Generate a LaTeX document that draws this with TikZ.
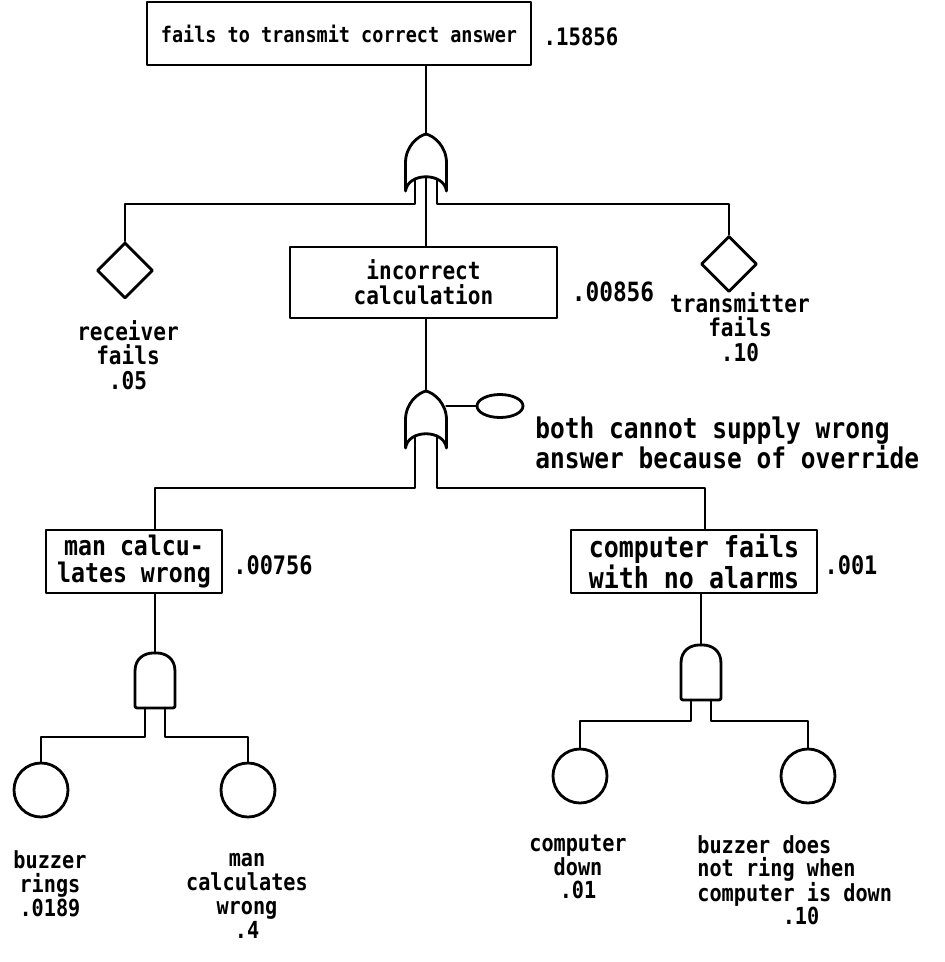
\documentclass[tikz,border=0pt]{standalone}
\usepackage{fontspec}
\setmonofont[FakeStretch=0.86]{DejaVu Sans Mono}
\usetikzlibrary{shapes.geometric}
\newcommand\fsz[2]{\fontsize{#1}{#2}\selectfont}
\begin{document}
\begin{tikzpicture}[x=1pt,y=-1pt,line width=2.8pt,line join=round,line cap=round,
  txt/.style={font=\ttfamily\bfseries, align=center, inner sep=0pt},
  box/.style={draw, rectangle, inner sep=0pt, font=\ttfamily\bfseries, align=center},
  evt/.style={draw, diamond, minimum width=56pt, minimum height=56pt, inner sep=0pt},
  basic/.style={draw, circle, minimum size=54pt, inner sep=0pt},
  cond/.style={draw, ellipse, minimum width=46pt, minimum height=23pt, inner sep=0pt},
  orgate/.pic={
    \draw (-20.5,57) -- (-20.5,29) .. controls (-20.5,12) and (-8,2) .. (0,0)
      .. controls (8,2) and (20.5,12) .. (20.5,29) -- (20.5,57)
      .. controls (18,38) and (-18,38) .. cycle;
    \coordinate (-top) at (0,0);
    \coordinate (-l) at (-11,45);
    \coordinate (-c) at (0,43);
    \coordinate (-r) at (11,45);
    \coordinate (-side) at (20.5,15);
  },
  andgate/.pic={
    \draw[rounded corners=2pt] (-20,55) -- (-20,20) .. controls (-20,5) and (-10,0) .. (0,0)
      .. controls (10,0) and (20,5) .. (20,20) -- (20,55) -- cycle;
    \coordinate (-top) at (0,0);
    \coordinate (-l) at (-10,55);
    \coordinate (-r) at (10,55);
  }]
\useasboundingbox (0,0) rectangle (945,962);
\fill[white] (0,0) rectangle (945,962);

% top event
\node[box, minimum width=384pt, minimum height=63pt, font=\ttfamily\bfseries\fsz{21.5}{22}] (top) at (339,33.5) {fails to transmit correct answer};
\node[txt, font=\ttfamily\bfseries\fsz{24}{24}] (ptop) at (581,37) {.15856};

\pic (g1) at (426,134) {orgate};
\draw (top.south -| g1-top) -- (g1-top);

% diamond events
\node[evt] (d1) at (125,270.5) {};
\node[evt] (d2) at (729,264) {};
\coordinate (j1) at (125,204);
\coordinate (j2) at (729,204);
\draw (g1-l) |- (j1) -- (d1.north);
\draw (g1-r) |- (j2) -- (d2.north);
\node[txt, font=\ttfamily\bfseries\fsz{24.5}{24.5}] (l1) at (128,355) {receiver\\fails\\.05};
\node[txt, font=\ttfamily\bfseries\fsz{24.5}{24.5}] (l2) at (740,327) {transmitter\\fails\\.10};

% incorrect calculation
\node[box, minimum width=267pt, minimum height=71pt, font=\ttfamily\bfseries\fsz{24.5}{25}] (mid) at (423.5,282.5) {incorrect\\calculation};
\node[txt, font=\ttfamily\bfseries\fsz{26.5}{24}] (pmid) at (613,292) {.00856};
\draw (g1-c) -- (g1-c |- mid.north);

\pic (g2) at (426,391) {orgate};
\draw (mid.south -| g2-top) -- (g2-top);
\node[cond] (e1) at (500,406) {};
\draw (g2-side) -- (e1.west);
\node[txt, font=\ttfamily\bfseries\fsz{28.5}{27}, align=left, anchor=north west] (l3) at (534,415) {both cannot supply wrong\\answer because of override};

% lower boxes
\node[box, minimum width=176pt, minimum height=63pt, font=\ttfamily\bfseries\fsz{27}{27.5}] (man) at (134,561.5) {man calcu-\\lates wrong};
\node[txt, font=\ttfamily\bfseries\fsz{25.5}{24}] (pman) at (273,565) {.00756};
\node[box, minimum width=246pt, minimum height=63pt, font=\ttfamily\bfseries\fsz{29}{29.5}] (comp) at (694,561.5) {computer fails\\with no alarms};
\node[txt, font=\ttfamily\bfseries\fsz{25.5}{24}] (pcomp) at (851,565) {.001};

\coordinate (j3) at (155,488);
\coordinate (j4) at (705,488);
\draw (g2-l) |- (j3) -- (j3 |- man.north);
\draw (g2-r) |- (j4) -- (j4 |- comp.north);

% AND gates
\pic (a1) at (155,653) {andgate};
\pic (a2) at (701,645) {andgate};
\draw (man.south -| a1-top) -- (a1-top);
\draw (comp.south -| a2-top) -- (a2-top);

\node[basic] (c1) at (41,790) {};
\node[basic] (c2) at (248,790) {};
\node[basic] (c3) at (580,776) {};
\node[basic] (c4) at (808,776) {};
\coordinate (j5) at (41,737);
\coordinate (j6) at (248,737);
\coordinate (j7) at (580,721);
\coordinate (j8) at (808,721);
\draw (a1-l) |- (j5) -- (c1.north);
\draw (a1-r) |- (j6) -- (c2.north);
\draw (a2-l) |- (j7) -- (c3.north);
\draw (a2-r) |- (j8) -- (c4.north);

% bottom labels
\node[txt, font=\ttfamily\bfseries\fsz{23.5}{23.8}] (b1) at (50,884) {buzzer\\rings\\.0189};
\node[txt, font=\ttfamily\bfseries\fsz{23.5}{24}] (b2) at (247,896) {man\\calculates\\wrong\\.4};
\node[txt, font=\ttfamily\bfseries\fsz{23.5}{23.5}] (b3) at (578,867) {computer\\down\\.01};
\node[txt, font=\ttfamily\bfseries\fsz{23.5}{23.5}, align=left, anchor=north west] (b4) at (696,834) {buzzer does\\not ring when\\computer is down};
\node[txt, font=\ttfamily\bfseries\fsz{23.5}{23.5}] (b5) at (801,916) {.10};
\end{tikzpicture}
\end{document}
